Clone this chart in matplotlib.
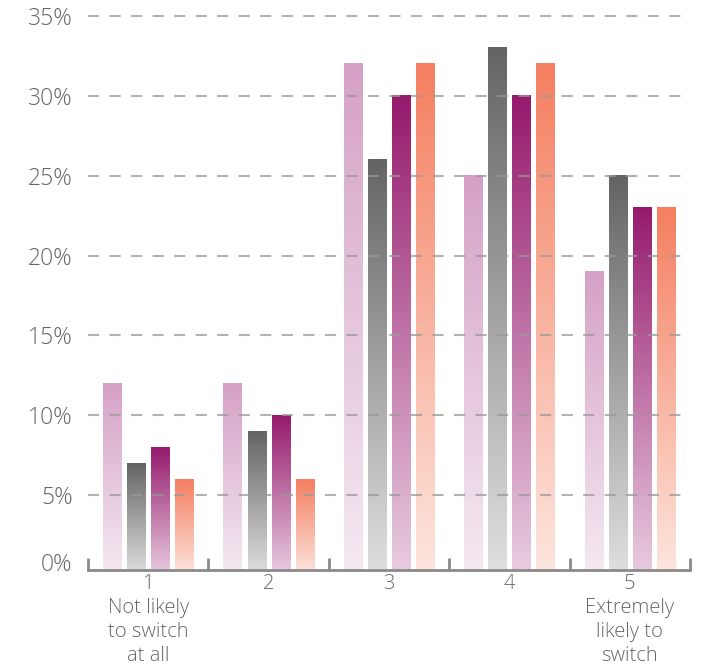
import matplotlib
matplotlib.use("Agg")
import matplotlib.pyplot as plt
import matplotlib.colors as mcolors
import numpy as np

# survey answers, percent per group (1 = not likely ... 5 = extremely likely)
categories = ["1\nNot likely\nto switch\nat all", "2", "3", "4", "5\nExtremely\nlikely to\nswitch"]
series_a = [12, 12, 32, 25, 19]
series_b = [7, 9, 26, 33, 25]
series_c = [8, 10, 30, 30, 23]
series_d = [6, 6, 32, 32, 23]
yticks = [5, 10, 15, 20, 25, 30, 35]

# (top colour, bottom colour) for each gradient bar
grads = [
    ("#d5a1c6", "#f5eaf2"),
    ("#646464", "#e0e0e0"),
    ("#951a6d", "#e9cde1"),
    ("#f47f60", "#fde6df"),
]

plt.rcParams['font.family'] = ['Open Sans', 'DejaVu Sans']
plt.rcParams['font.weight'] = 'light'
plt.rcParams['lines.scale_dashes'] = False
text_col = "#666666"

fig = plt.figure(figsize=(7.08, 6.70), dpi=100)
ax = fig.add_axes([88/708, 100/670, 602/708, 570/670])

offsets = [-0.3, -0.1, 0.1, 0.3]
width = 0.15
for s, vals in enumerate([series_a, series_b, series_c, series_d]):
    top = np.array(mcolors.to_rgba(grads[s][0]))
    bot = np.array(mcolors.to_rgba(grads[s][1]))
    t = np.linspace(0, 1, 256)[:, None]
    img = (top[None, :] * (1 - t) + bot[None, :] * t)[:, None, :]
    for i, v in enumerate(vals):
        x0 = i + offsets[s] - width / 2
        ax.imshow(img, extent=[x0, x0 + width, 0, v], aspect='auto',
                  origin='upper', interpolation='bilinear', zorder=1)

for y in yticks:
    ax.axhline(y, color="#999999", alpha=0.75, lw=1.5, dashes=(8, 7.5), zorder=3)

ax.set_xlim(-0.5, 4.5)
ax.set_ylim(0.31, 36.0)

for side in ["left", "right", "top"]:
    ax.spines[side].set_visible(False)
ax.spines["bottom"].set_color("#8a8a8a")
ax.spines["bottom"].set_linewidth(2)

# group boundary ticks, pointing up
ax.set_xticks(np.arange(-0.5, 5, 1))
ax.set_xticklabels([])
ax.tick_params(axis='x', which='major', direction='in', length=8.5, width=2, color="#8a8a8a")
ax.set_xticks(np.arange(5), minor=True)
ax.set_xticklabels(categories, minor=True, fontsize=14.5, color=text_col, linespacing=1.27)
ax.tick_params(axis='x', which='minor', length=0, pad=3)

ax.set_yticks(yticks)
ax.set_yticklabels([f"{y}%" for y in yticks], fontsize=16.5, color=text_col)
ax.tick_params(axis='y', length=0, pad=11)
ax.annotate("0%", xy=(0, 0.63), xycoords=('axes fraction', 'data'),
            xytext=(-11, 0), textcoords='offset points', ha='right', va='center',
            fontsize=16.5, color=text_col)

fig.savefig("out.png", dpi=100)
